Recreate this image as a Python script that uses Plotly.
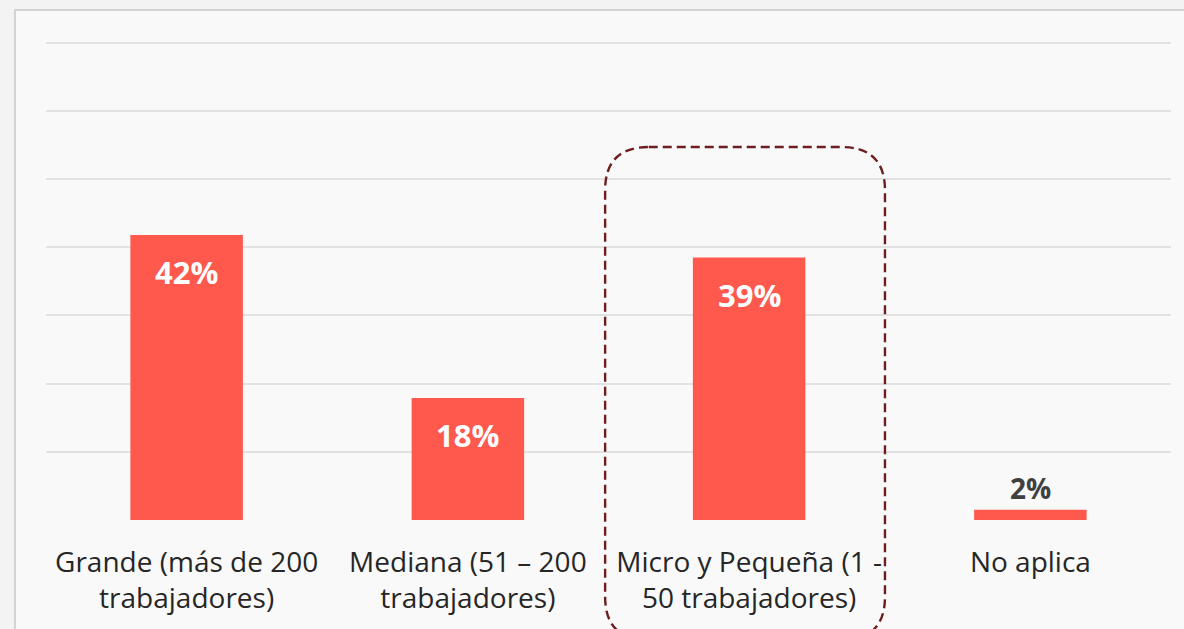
import plotly.graph_objects as go

categories = ["Grande (más de 200<br>trabajadores)", "Mediana (51 – 200<br>trabajadores)",
              "Micro y Pequeña (1 -<br>50 trabajadores)", "No aplica"]
values = [41.8, 17.9, 38.5, 1.5]
labels = ["42%", "18%", "39%", "2%"]
y_ticks = [0, 10, 20, 30, 40, 50, 60, 70]

BAR = "#FF584C"
FONT = "Open Sans"

fig = go.Figure()
fig.add_trace(go.Bar(x=categories, y=values, width=0.4, marker=dict(color=BAR, line=dict(width=0)),
                     hoverinfo="skip"))

for c, v, t in zip(categories, values, labels):
    inside = v > 5
    fig.add_annotation(x=c, y=v, text="<b>%s</b>" % t, showarrow=False,
                       yanchor="middle" if inside else "bottom",
                       yshift=-37 if inside else 1,
                       font=dict(family=FONT, size=31 if inside else 28,
                                 color="white" if inside else "#404040"))

# outer frame
fig.add_shape(type="rect", xref="paper", yref="paper", x0=-0.0276, x1=1.2, y0=-0.5, y1=1.0625,
              line=dict(color="#d2d2d2", width=2), fillcolor="#f9f9f9", layer="below")

# dashed rounded highlight box
x0, x1, y0, y1 = 1.488, 2.483, -0.25, 0.777
rx, ry = 0.155, 0.09
path = (f"M {x0+rx} {y1} L {x1-rx} {y1} Q {x1} {y1} {x1} {y1-ry} "
        f"L {x1} {y0+ry} Q {x1} {y0} {x1-rx} {y0} L {x0+rx} {y0} Q {x0} {y0} {x0} {y0+ry} "
        f"L {x0} {y1-ry} Q {x0} {y1} {x0+rx} {y1} Z")
fig.add_shape(type="path", xref="x", yref="paper", path=path,
              line=dict(color="#6E1E1E", width=2.4, dash="9px,5px"), layer="above")

fig.update_layout(
    width=1184, height=629,
    margin=dict(l=46, r=13, t=40, b=109),
    paper_bgcolor="#f3f3f3", plot_bgcolor="rgba(0,0,0,0)",
    showlegend=False,
    font=dict(family=FONT, color="#262626"),
    xaxis=dict(range=[-0.5, 3.5], showgrid=False, showline=False, zeroline=False, automargin=False,
               tickfont=dict(family=FONT, size=28, color="#262626"), ticks="outside",
               ticklen=17, tickcolor="rgba(0,0,0,0)"),
    yaxis=dict(range=[0, 70.4], tickvals=y_ticks, showticklabels=False, showgrid=True, automargin=False,
               gridcolor="#e2e2e2", gridwidth=2, zeroline=False, showline=False),
)

fig.write_html("out.html", config={"displayModeBar": False},
               post_script="document.body.style.margin='0';document.body.style.overflow='hidden';"
                           "document.body.style.background='#f3f3f3';")
